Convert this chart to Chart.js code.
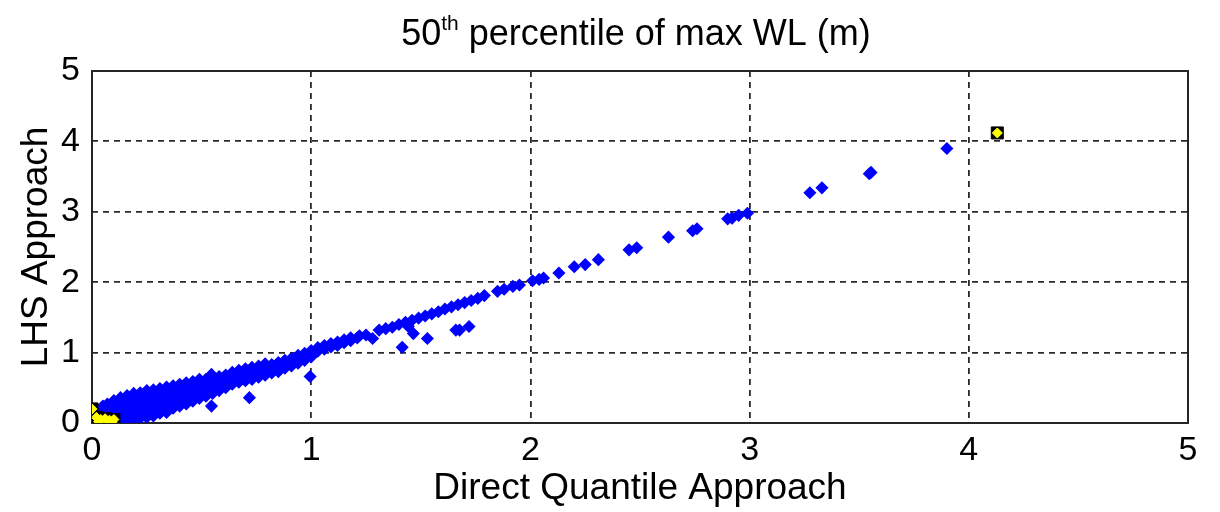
<!DOCTYPE html>
<html><head><meta charset="utf-8">
<script src="https://cdn.jsdelivr.net/npm/chart.js@4.4.0/dist/chart.umd.min.js"></script>
<style>html,body{margin:0;padding:0;background:#fff;}</style>
</head><body>
<canvas id="c" width="1220" height="512" style="display:block"></canvas>
<script>
// ---- data (Direct Quantile Approach x, LHS Approach y) ----
const titleMain = '50';
const titleSup = 'th';
const titleRest = ' percentile of max WL (m)';
const xAxisTitle = 'Direct Quantile Approach';
const yAxisTitle = 'LHS Approach';
const tickValues = [0, 1, 2, 3, 4, 5];

const bandLow = [
 [0.01,0.03],[0.01,0.10],
 [0.03,0.02],[0.03,0.09],[0.03,0.17],
 [0.05,0.01],[0.05,0.08],[0.05,0.16],[0.05,0.24],
 [0.07,0.03],[0.07,0.11],[0.07,0.19],[0.07,0.27],
 [0.10,0.02],[0.10,0.10],[0.10,0.18],[0.10,0.26],[0.10,0.32],
 [0.13,0.04],[0.13,0.12],[0.13,0.21],[0.13,0.29],[0.13,0.36],
 [0.16,0.05],[0.16,0.14],[0.16,0.22],[0.16,0.31],[0.16,0.39],
 [0.19,0.06],[0.19,0.15],[0.19,0.24],[0.19,0.33],[0.19,0.42],
 [0.22,0.07],[0.22,0.16],[0.22,0.25],[0.22,0.34],[0.22,0.43],
 [0.25,0.08],[0.25,0.18],[0.25,0.27],[0.25,0.36],[0.25,0.46],
 [0.28,0.10],[0.28,0.20],[0.28,0.29],[0.28,0.38],[0.28,0.47],
 [0.31,0.14],[0.31,0.22],[0.31,0.31],[0.31,0.40],[0.31,0.49],
 [0.34,0.19],[0.34,0.27],[0.34,0.35],[0.34,0.43],[0.34,0.51],
 [0.37,0.21],[0.37,0.29],[0.37,0.37],[0.37,0.45],[0.37,0.53],
 [0.40,0.24],[0.40,0.32],[0.40,0.40],[0.40,0.48],[0.40,0.55],
 [0.43,0.27],[0.43,0.35],[0.43,0.43],[0.43,0.51],[0.43,0.57],
 [0.46,0.31],[0.46,0.39],[0.46,0.47],[0.46,0.54],[0.46,0.59],
 [0.49,0.35],[0.49,0.43],[0.49,0.51],[0.49,0.58],[0.49,0.62]
];
const bandMid = [
 [0.52,0.38],[0.52,0.46],[0.52,0.54],[0.52,0.62],
 [0.55,0.42],[0.55,0.50],[0.55,0.57],[0.55,0.64],
 [0.58,0.46],[0.58,0.53],[0.58,0.60],[0.58,0.66],
 [0.61,0.50],[0.61,0.57],[0.61,0.63],[0.61,0.68],
 [0.64,0.55],[0.64,0.61],[0.64,0.67],[0.64,0.72],
 [0.67,0.58],[0.67,0.64],[0.67,0.70],[0.67,0.75],
 [0.70,0.60],[0.70,0.67],[0.70,0.73],[0.70,0.77],
 [0.73,0.62],[0.73,0.69],[0.73,0.75],[0.73,0.79],
 [0.76,0.65],[0.76,0.72],[0.76,0.78],[0.76,0.81],
 [0.79,0.68],[0.79,0.74],[0.79,0.80],[0.79,0.84],
 [0.82,0.71],[0.82,0.77],[0.82,0.83],
 [0.85,0.73],[0.85,0.80],[0.85,0.86],
 [0.88,0.78],[0.88,0.84],[0.88,0.89],
 [0.91,0.81],[0.91,0.87],[0.91,0.92],
 [0.94,0.85],[0.94,0.90],[0.94,0.96],
 [0.97,0.89],[0.97,0.94],[0.97,0.99],
 [1.00,0.94],[1.00,0.99],[1.00,1.03]
];
const bandHigh = [
 [1.03,1.02],[1.03,1.07],[1.06,1.05],[1.06,1.10],[1.09,1.08],[1.09,1.13],
 [1.12,1.10],[1.12,1.15],[1.15,1.14],[1.15,1.18],[1.18,1.17],[1.18,1.21],
 [1.21,1.21],[1.22,1.24],[1.25,1.25],[1.31,1.32],[1.34,1.34],[1.37,1.36],
 [1.40,1.40],[1.43,1.43],[1.46,1.46],[1.49,1.49],[1.52,1.52],[1.55,1.55],
 [1.58,1.58],[1.61,1.62],[1.64,1.65],[1.67,1.68],[1.70,1.71],[1.73,1.74],
 [1.76,1.77],[1.79,1.81],[1.85,1.87],[1.88,1.90],[1.92,1.94],[1.95,1.96],
 [2.01,2.02],[2.04,2.04],[2.06,2.06]
];
const tailPoints = [
 [2.13,2.13],[2.20,2.22],[2.25,2.25],[2.31,2.32],[2.45,2.46],[2.485,2.49],
 [2.63,2.64],[2.74,2.73],[2.76,2.76],[2.90,2.90],[2.92,2.91],[2.95,2.95],
 [2.99,2.98],[3.275,3.27],[3.33,3.34],[3.546,3.54],[3.554,3.56],[3.90,3.90]
];
const outlierPoints = [
 [0.34,0.15],[0.545,0.69],[0.545,0.24],[0.718,0.36],[0.995,0.66],
 [1.28,1.20],[1.415,1.075],[1.466,1.27],[1.443,1.37],[1.53,1.20],
 [1.66,1.32],[1.677,1.32],[1.72,1.37]
];
const highlightPoints = [
 [0.00,0.20],[0.02,0.08],[0.04,0.05],[0.06,0.06],[0.08,0.04],
 [0.10,0.05],[0.03,0.02],[0.09,0.01],[4.13,4.12]
];

const toXY = arr => arr.map(p => ({x: p[0], y: p[1]}));
const bluePts = [].concat(toXY(bandLow), toXY(bandMid), toXY(bandHigh), toXY(tailPoints), toXY(outlierPoints));
const FONT = 'Arial, "Liberation Sans", sans-serif';

const titlePlugin = {
  id: 'supTitle',
  afterDraw(chart) {
    const ctx = chart.ctx;
    ctx.save();
    ctx.fillStyle = '#000';
    ctx.textBaseline = 'alphabetic';
    const big = '36px ' + FONT, small = '21px ' + FONT;
    ctx.font = big; const w1 = ctx.measureText(titleMain).width; const w3 = ctx.measureText(titleRest).width;
    ctx.font = small; const w2 = ctx.measureText(titleSup).width;
    const total = w1 + w2 + w3;
    const cx = 636;
    let x = cx - total / 2; const base = 45;
    ctx.textAlign = 'left';
    ctx.font = big; ctx.fillText(titleMain, x, base); x += w1;
    ctx.font = small; ctx.fillText(titleSup, x, base - 15); x += w2;
    ctx.font = big; ctx.fillText(titleRest, x, base);
    ctx.restore();
  }
};
const boxPlugin = {
  id: 'axesBox',
  beforeDatasetsDraw(chart) {
    const {ctx, chartArea: a} = chart;
    ctx.save();
    ctx.strokeStyle = '#262626';
    ctx.lineWidth = 2;
    ctx.setLineDash([]);
    ctx.strokeRect(a.left, a.top, a.right - a.left, a.bottom - a.top);
    ctx.restore();
  }
};

new Chart(document.getElementById('c'), {
  type: 'scatter',
  data: {
    datasets: [
      {label: 'highlight', data: toXY(highlightPoints), pointStyle: 'rectRot', pointRadius: 5,
       backgroundColor: '#ffff00', borderColor: '#ffff00', borderWidth: 1, order: 0},
      {label: 'highlightBox', data: toXY(highlightPoints), pointStyle: 'rect', pointRadius: 8.5,
       backgroundColor: '#000000', borderColor: '#000000', borderWidth: 1, order: 1},
      {label: 'LHS vs Direct', data: bluePts, pointStyle: 'rectRot', pointRadius: 5.5,
       backgroundColor: '#0000ff', borderColor: '#0000ff', borderWidth: 1.5, order: 2}
    ]
  },
  options: {
    responsive: false,
    animation: false,
    devicePixelRatio: 1,
    layout: {padding: {left: 0, right: 32, top: 71, bottom: 0}},
    plugins: {legend: {display: false}, tooltip: {enabled: false}, title: {display: false}},
    scales: {
      x: {
        type: 'linear', min: 0, max: 5,
        afterBuildTicks: s => { s.ticks = tickValues.map(v => ({value: v})); },
        afterFit: s => { s.height = 89; },
        ticks: {color: '#000', font: {family: FONT, size: 34}, padding: 7, maxRotation: 0},
        grid: {color: '#2a2a2a', lineWidth: 1.8, drawTicks: false},
        border: {display: false, dash: [6, 5]},
        title: {display: true, text: xAxisTitle, color: '#000', font: {family: FONT, size: 37}, padding: {top: 0, bottom: 1}}
      },
      y: {
        type: 'linear', min: 0, max: 5,
        afterBuildTicks: s => { s.ticks = tickValues.map(v => ({value: v})); },
        afterFit: s => { s.width = 92; },
        ticks: {color: '#000', font: {family: FONT, size: 34}, padding: 12},
        grid: {color: '#2a2a2a', lineWidth: 1.8, drawTicks: false},
        border: {display: false, dash: [6, 5]},
        title: {display: true, text: yAxisTitle, color: '#000', font: {family: FONT, size: 37}, padding: {top: 15, bottom: 0}}
      }
    }
  },
  plugins: [titlePlugin, boxPlugin]
});
</script>
</body></html>
